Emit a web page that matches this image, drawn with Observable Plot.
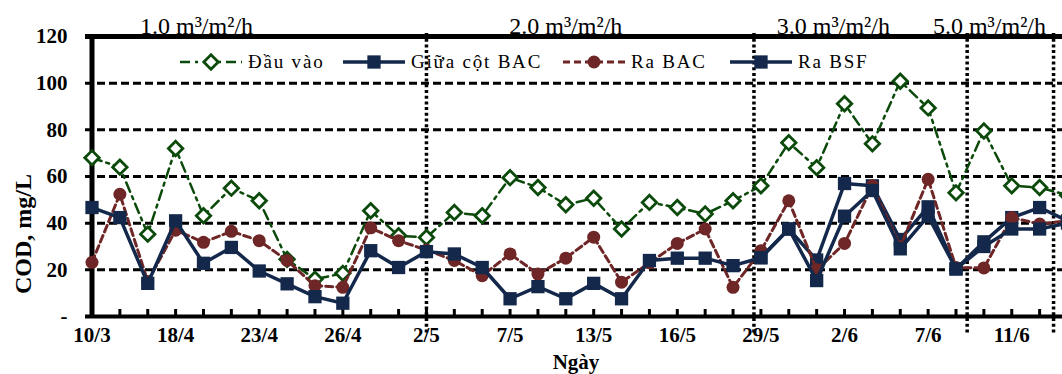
<!DOCTYPE html>
<html><head><meta charset="utf-8">
<script src="https://cdn.jsdelivr.net/npm/d3@7"></script>
<script src="https://cdn.jsdelivr.net/npm/@observablehq/plot@0.6"></script>
<style>
html,body{margin:0;padding:0;background:#fff;overflow:hidden}
#wrap{position:relative;width:1062px;height:374px;overflow:hidden;background:#fff}
#wrap svg{position:absolute;left:0;top:0}
</style></head><body><div id="wrap"></div>
<script>
// ---- data ----
const xLabels = ["10/3","18/4","23/4","26/4","2/5","7/5","13/5","16/5","29/5","2/6","7/6","11/6"];
const labelEvery = 3;
const seriesNames = ["Đầu vào", "Giữa cột BAC", "Ra BAC", "Ra BSF"];
const dauVao = [68,64,35.3,72,43.2,55,49.6,24.5,16,18.5,45.3,34.6,33.9,44.6,43.2,59.5,55.3,47.9,50.7,37.5,48.9,46.7,43.9,49.6,56,74.5,63.8,91.2,74,100.8,89.4,53,79.5,56,55.3,52];
const giuaBAC = [null,null,null,null,null,null,null,null,null,null,null,null,null,null,null,null,null,null,null,null,null,null,null,null,25.2,37.5,24.2,57,56,33,47,20.4,32,42.4,46.7,41];
const raBAC = [23.2,52.4,15,37,31.8,36.5,32.5,24,13.2,12.5,38,32.5,28.5,24,17.5,26.8,18.2,25,34,14.7,23,31.3,37.5,12.5,28.2,49.6,20,31.3,56,30,58.8,21,20.8,42.4,39.6,41];
const raBSF = [46.7,42.4,14.2,41,22.8,29.6,19.5,14,8.5,5.7,28.2,21,27.8,26.8,21,7.6,12.8,7.6,14.2,7.6,24,25,25,21.8,25.2,37.5,15.4,43,54,29,43,20.4,30,37.5,37.5,40];
const phaseNames = ["1.0 m³/m²/h","2.0 m³/m²/h","3.0 m³/m²/h","5.0 m³/m²/h"];
const phaseLabelAt = [3.75, 17, 26.6, 32.2];
const phaseBreaks = [12, 23.75, 31.4, 34.5];
const yTicks = [0,20,40,60,80,100,120];
const gridValues = [20,40,60,80,100];
const yTitle = "COD, mg/L";
const xTitle = "Ngày";

// ---- chart ----
const idx = d3.range(dauVao.length);
const labelIdx = idx.filter(i => i % labelEvery === 0);
const C = {green:"#0b4a0b", navy:"#13284a", red:"#6e2626"};
const font = "'Liberation Serif','Times New Roman',serif";

function seriesMarks(vals, o) {
  return [
    Plot.line(idx, {x: i => i, y: i => vals[i], stroke: o.color, strokeWidth: o.sw, strokeDasharray: o.dash}),
    Plot.dot(idx, {x: i => i, y: i => vals[i], symbol: o.symbol, r: o.r,
      fill: o.fill, stroke: o.stroke || "none", strokeWidth: o.msw || 0})
  ];
}

const chart = Plot.plot({
  width: 1062, height: 374,
  marginLeft: 91, marginRight: 0, marginTop: 36, marginBottom: 58,
  style: {fontFamily: font, background: "white", color: "black"},
  x: {type: "linear", domain: [0, 35], range: [91.5, 1067]},
  y: {domain: [0, 120]},
  marks: [
    Plot.ruleY(gridValues, {stroke: "black", strokeWidth: 3, strokeDasharray: "8,4", insetLeft: -6}),
    Plot.ruleX(phaseBreaks, {stroke: "black", strokeWidth: 3.5, strokeDasharray: "3,2.7", insetTop: -3, insetBottom: -18}),
    Plot.tickX(idx, {x: d => d, stroke: "black", strokeWidth: 3, insetTop: 273}),
    Plot.ruleY([120], {stroke: "black", strokeWidth: 5, insetLeft: -6}),
    Plot.ruleY([0], {stroke: "black", strokeWidth: 4, insetLeft: -6}),
    Plot.ruleX([0], {stroke: "black", strokeWidth: 5}),
    Plot.axisY(yTicks, {tickSize: 0, tickPadding: 24, tickFormat: d => d === 0 ? "-" : String(d),
      fontSize: 21, fontWeight: "bold", label: null}),
    Plot.axisX(labelIdx, {tickSize: 0, tickPadding: 11, tickFormat: i => xLabels[i / labelEvery],
      fontSize: 21, fontWeight: "bold", label: null}),
    ...seriesMarks(dauVao, {color: C.green, sw: 2.5, dash: "10,5,3,5", symbol: "diamond2", r: 6.5, fill: "white", stroke: C.green, msw: 2.8}),
    ...seriesMarks(giuaBAC, {color: C.navy, sw: 3.5, dash: null, symbol: "square", r: 7.5, fill: C.navy}),
    ...seriesMarks(raBAC, {color: C.red, sw: 3, dash: "7,4", symbol: "circle", r: 6.5, fill: C.red}),
    ...seriesMarks(raBSF, {color: C.navy, sw: 3.5, dash: null, symbol: "square", r: 7.5, fill: C.navy}),
    Plot.text(d3.range(phaseNames.length), {x: i => phaseLabelAt[i], text: i => phaseNames[i],
      frameAnchor: "top", lineAnchor: "bottom", dy: -3, fontSize: 24, fill: "black"})
  ]
});
const wrap = document.getElementById("wrap");
wrap.appendChild(chart);

// ---- legend and axis titles overlay ----
const legendX = [180, 343, 563, 730];
const legendY = 62;
const styles = [
  {color: C.green, sw: 2.5, dash: "10,5,3,5", symbol: d3.symbolDiamond2, fill: "white", stroke: C.green, size: 6.5},
  {color: C.navy, sw: 3.5, dash: null, symbol: d3.symbolSquare, fill: C.navy, stroke: "none", size: 7.5},
  {color: C.red, sw: 3, dash: "7,4", symbol: d3.symbolCircle, fill: C.red, stroke: "none", size: 6.5},
  {color: C.navy, sw: 3.5, dash: null, symbol: d3.symbolSquare, fill: C.navy, stroke: "none", size: 7.5}
];
const lg = d3.select(wrap).append("svg").attr("width", 1062).attr("height", 374)
  .style("pointer-events", "none").attr("font-family", font);
seriesNames.forEach((name, i) => {
  const s = styles[i], x0 = legendX[i];
  const g = lg.append("g").attr("transform", `translate(${x0},${legendY})`);
  g.append("line").attr("x1", 0).attr("x2", 62).attr("stroke", s.color)
    .attr("stroke-width", s.sw).attr("stroke-dasharray", s.dash);
  g.append("path").attr("transform", "translate(31,0)")
    .attr("d", d3.symbol(s.symbol, Math.PI * s.size * s.size)())
    .attr("fill", s.fill).attr("stroke", s.stroke).attr("stroke-width", 2.8);
  g.append("text").attr("x", 68).attr("dy", "0.32em").attr("font-size", 19)
    .attr("letter-spacing", "1.8px").attr("fill", "black").text(name);
});
lg.append("text").attr("transform", "translate(23,234) rotate(-90)")
  .attr("text-anchor", "middle").attr("dy", "0.35em").attr("font-size", 24)
  .attr("font-weight", "bold").attr("fill", "black").text(yTitle);
lg.append("text").attr("x", 576).attr("y", 368.5)
  .attr("text-anchor", "middle").attr("font-size", 21)
  .attr("font-weight", "bold").attr("fill", "black").text(xTitle);
</script></body></html>
